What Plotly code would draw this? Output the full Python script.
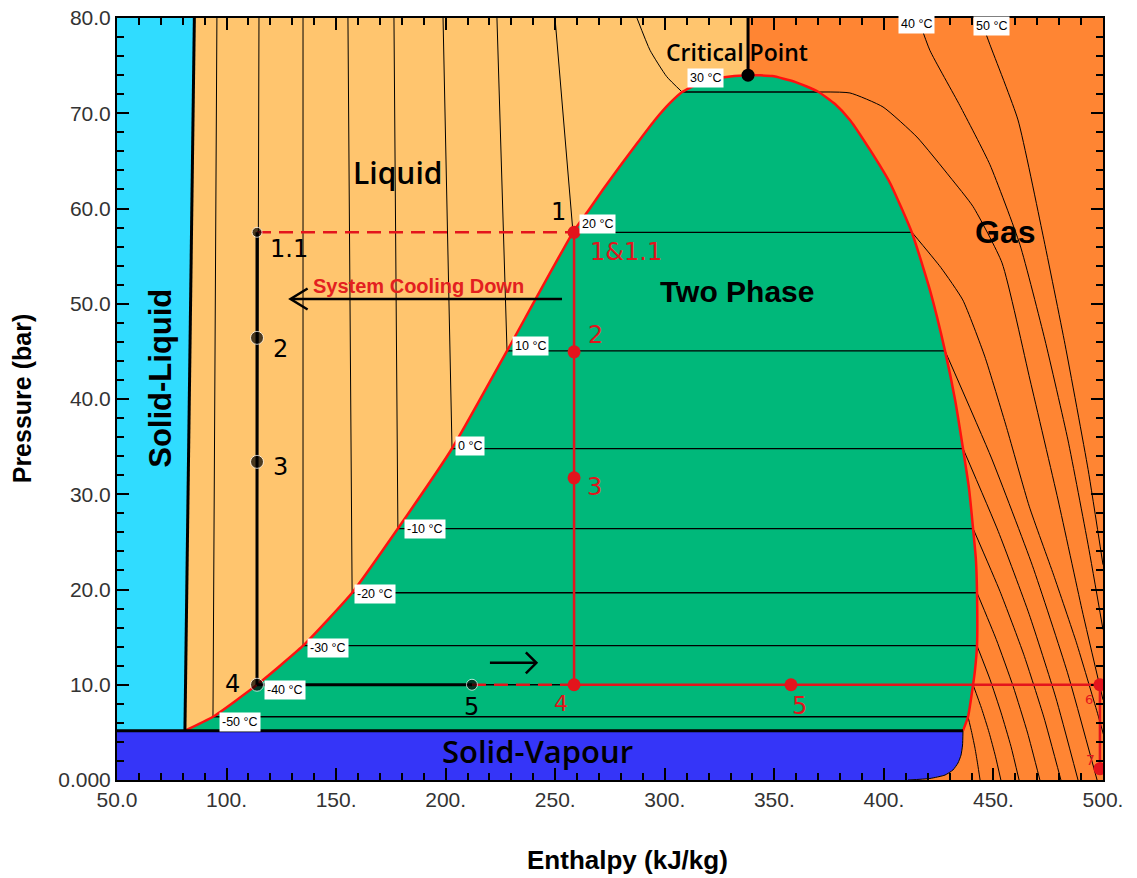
import plotly.graph_objects as go

# ---------------- axis ticks ----------------
x_tickvals = [50, 100, 150, 200, 250, 300, 350, 400, 450, 500]
x_ticktext = ["50.0", "100.", "150.", "200.", "250.", "300.", "350.", "400.", "450.", "500."]
y_tickvals = [0, 10, 20, 30, 40, 50, 60, 70, 80]
y_ticktext = ["0.000", "10.0", "20.0", "30.0", "40.0", "50.0", "60.0", "70.0", "80.0"]

# ---------------- phase boundaries (h kJ/kg, P bar) ----------------
P_triple = 5.18
crit_h = 338.0
crit_P = 74.0
liq_h = [81.0, 93.8, 113.9, 134.9, 157.3, 178.2, 202.9, 228.0, 258.1, 265.0, 271.8, 279.6, 287.8, 295.5, 302.4, 307.9, 316.1, 326.1, 338.0]
liq_P = [5.18, 6.64, 10.0, 14.1, 19.66, 26.4, 34.8, 45.05, 57.5, 59.74, 62.0, 64.46, 66.98, 69.29, 71.08, 72.23, 73.18, 73.75, 74.0]
vap_h = [338.0, 349.0, 359.4, 370.0, 377.7, 384.5, 393.7, 402.8, 412.8, 421.0, 427.9, 432.5, 436.1, 438.9, 440.7, 442.0, 442.5, 442.5, 441.6, 440.7, 438.4, 436.1]
vap_P = [74.0, 73.9, 73.3, 72.26, 70.97, 69.3, 66.15, 62.68, 57.46, 51.45, 45.05, 39.9, 34.8, 30.5, 26.4, 23.1, 19.66, 14.1, 11.6, 10.0, 6.64, 5.18]
sub_h = [436.1, 435.9, 435.2, 433.8, 431.5, 427.9, 421.0, 411.0]
sub_P = [5.18, 3.67, 2.62, 1.78, 1.05, 0.52, 0.16, 0.0]
melt_h = [81.0, 85.3]
melt_P = [5.18, 80.0]

# ---------------- isotherms ----------------
iso_T = [-50, -40, -30, -20, -10, 0, 10, 20]
iso_Psat = [6.64, 10.0, 14.1, 19.66, 26.4, 34.8, 45.05, 57.5]
iso_hf = [93.8, 113.9, 134.9, 157.3, 178.2, 202.9, 228.0, 258.1]
iso_hg = [438.4, 440.7, 442.5, 442.5, 440.7, 436.1, 427.9, 412.8]
iso_htop = [95.6, 114.8, 134.9, 155.4, 176.4, 198.8, 223.4, 249.9]
iso_gas_h = [
    [440.1, 441.6, 442.8, 443.9],
    [444.6, 448.0, 450.9, 453.4],
    [448.4, 453.5, 458.0, 461.7],
    [451.3, 459.0, 465.6, 471.2],
    [453.0, 463.8, 473.0, 480.8],
    [452.2, 466.3, 478.4, 488.6],
    [449.1, 467.8, 483.8, 497.3],
    [426.0, 436.0, 446.0, 456.0, 466.3, 477.5, 487.9, 497.5, 506.0],
]
iso_gas_P = [
    [4.98, 3.32, 1.66, 0.0],
    [7.5, 5.0, 2.5, 0.0],
    [10.58, 7.05, 3.53, 0.0],
    [14.75, 9.83, 4.92, 0.0],
    [19.8, 13.2, 6.6, 0.0],
    [26.1, 17.4, 8.7, 0.0],
    [33.8, 22.5, 11.26, 0.0],
    [53.8, 50.4, 44.5, 37.0, 28.75, 21.5, 14.4, 7.0, 0.0],
]
t30_h = [287.3, 293.3, 300.9, 307.9, 370.0, 384.5, 399.6, 415.1, 430.2, 440.7, 453.9, 466.7, 479.5, 490.4, 500.0]
t30_P = [80.0, 76.6, 73.84, 72.23, 72.23, 72.13, 70.66, 67.5, 63.3, 60.2, 54.3, 42.0, 29.4, 17.9, 8.42]
t40_h = [415.6, 421.0, 434.7, 448.4, 462.1, 473.5, 484.0, 493.2, 500.0]
t40_P = [80.0, 76.6, 70.8, 64.6, 56.2, 46.2, 35.7, 24.7, 15.8]
t50_h = [443.9, 448.4, 461.2, 472.6, 482.7, 493.2, 500.0]
t50_P = [80.0, 77.2, 69.3, 57.2, 45.7, 32.6, 22.6]

# ---------------- cycle points ----------------
black_h = 113.9
black_P = [57.5, 46.42, 33.4, 10.0]
black5_h = 212.0
red_h = 258.6
red_P = [57.5, 44.95, 31.72, 10.0]
red5_h = 357.6
red6_h = 498.6
red7_P = 1.19
P_low = 10.0

# ---------------- colors ----------------
C_CYAN = "#30DCFF"
C_LIQ = "#FFC56E"
C_GAS = "#FF8533"
C_TWO = "#00B87A"
C_BLUE = "#3535F8"
C_RED = "#FF1010"
C_CYC = "#E3141C"

fig = go.Figure()

def poly(h, P, color, shape="linear"):
    fig.add_trace(go.Scatter(x=h, y=P, fill="toself", fillcolor=color, mode="lines",
                             line=dict(width=0, color=color, shape=shape, smoothing=0.5),
                             hoverinfo="skip"))

def line(h, P, color="black", width=1, dash=None, shape="linear"):
    fig.add_trace(go.Scatter(x=h, y=P, mode="lines", hoverinfo="skip",
                             line=dict(color=color, width=width, dash=dash, shape=shape, smoothing=0.5)))

# regions
poly([50, melt_h[0], melt_h[1], 50], [P_triple, P_triple, 80, 80], C_CYAN)
poly(melt_h + [crit_h, crit_h] + liq_h[::-1], melt_P + [80, crit_P] + liq_P[::-1], C_LIQ)
poly(liq_h + vap_h[1:], liq_P + vap_P[1:], C_TWO, shape="spline")
poly([50] + sub_h + [50], [P_triple] + sub_P + [0], C_BLUE)

# isotherms
for i in range(len(iso_T)):
    line([iso_htop[i], iso_hf[i]], [80, iso_Psat[i]], width=1)
    line([iso_hf[i], iso_hg[i]], [iso_Psat[i], iso_Psat[i]], width=1.3)
    line([iso_hg[i]] + iso_gas_h[i], [iso_Psat[i]] + iso_gas_P[i], width=1, shape="spline")
line(t30_h[:4], t30_P[:4], width=1, shape="spline")
line(t30_h[3:5], t30_P[3:5], width=1.3)
line(t30_h[4:], t30_P[4:], width=1, shape="spline")
line(t40_h, t40_P, width=1, shape="spline")
line(t50_h, t50_P, width=1, shape="spline")

# boundaries
line(liq_h + vap_h[1:], liq_P + vap_P[1:], color=C_RED, width=2.5, shape="spline")
line(sub_h, sub_P, color="black", width=1, shape="spline")
line(melt_h, melt_P, color="black", width=3)
line([50, sub_h[0]], [P_triple, P_triple], color="black", width=3)
line([crit_h, crit_h], [crit_P, 80], color="black", width=3)
fig.add_trace(go.Scatter(x=[crit_h], y=[crit_P], mode="markers", hoverinfo="skip",
                         marker=dict(color="black", size=13)))

# cycle: red
line([black_h, red_h], [black_P[0], red_P[0]], color=C_CYC, width=2.5, dash="14px,8px")
line([black5_h, red_h], [P_low, P_low], color=C_CYC, width=2.5, dash="14px,8px")
line([red_h, red_h], [red_P[0], red_P[-1]], color=C_CYC, width=2.5)
line([red_h, red6_h, red6_h], [P_low, P_low, red7_P], color=C_CYC, width=2.5)
fig.add_trace(go.Scatter(x=[red_h] * 4 + [red5_h], y=red_P + [P_low],
                         mode="markers", hoverinfo="skip",
                         marker=dict(color=C_CYC, size=13)))
for py in (P_low, red7_P):
    fig.add_shape(type="circle", xref="x", yref="y", xsizemode="pixel", ysizemode="pixel",
                  xanchor=red6_h, yanchor=py, x0=-6.5, x1=6.5, y0=-6.5, y1=6.5,
                  fillcolor=C_CYC, line=dict(width=0), layer="above")
# cycle: black
line([black_h, black_h], [black_P[0], black_P[-1]], color="black", width=3)
line([black_h, black5_h], [P_low, P_low], color="black", width=3)
fig.add_trace(go.Scatter(x=[black_h] * 4 + [black5_h], y=black_P + [P_low],
                         mode="markers", hoverinfo="skip",
                         marker=dict(color="black", size=[10, 13, 13, 13, 11])))

# arrows (shaft + open head)
fig.add_shape(type="line", x0=253.1, y0=50.5, x1=129.5, y1=50.5, line=dict(color="black", width=2.5))
fig.add_shape(type="path", path="M 137.0,51.6 L 129.2,50.5 L 137.0,49.4", line=dict(color="black", width=2.5))
fig.add_shape(type="line", x0=220.2, y0=12.3, x1=241.2, y1=12.3, line=dict(color="black", width=2.5))
fig.add_shape(type="path", path="M 236.6,13.4 L 241.4,12.3 L 236.6,11.2", line=dict(color="black", width=2.5))

anns = []
def txt(x, y, s, size, color="black", family="Liberation Sans", weight="bold", angle=0, bg=None, pad=1):
    a = dict(x=x, y=y, xref="x", yref="y", text=s, showarrow=False, textangle=angle,
             xanchor="center", yanchor="middle",
             font=dict(size=size, color=color, family=family, weight=weight))
    if bg:
        a.update(bgcolor=bg, borderpad=pad)
    anns.append(a)

# region labels
txt(177.8, 63.8, "Liquid", 30, family="Open Sans", weight=600)
txt(333.0, 51.3, "Two Phase", 30)
txt(455.3, 57.5, "Gas", 32)
txt(69.5, 42.2, "Solid-Liquid", 31, angle=-90)
txt(242.0, 3.0, "Solid-Vapour", 31, family="Open Sans", weight=600)
txt(333.0, 76.4, "Critical Point", 23, family="Open Sans", weight=600)
txt(187.4, 51.9, "System Cooling Down", 20, color="#E32020")

# isotherm labels
iso_lab = [("-50 °C", 106.1, 6.13), ("-40 °C", 126.7, 9.48), ("-30 °C", 146.3, 13.9),
           ("-20 °C", 167.7, 19.55), ("-10 °C", 190.6, 26.3), ("0 °C", 211.1, 35.1),
           ("10 °C", 238.5, 45.6), ("20 °C", 269.5, 58.4), ("30 °C", 318.8, 73.75),
           ("40 °C", 415.1, 79.4), ("50 °C", 449.3, 79.2)]
for s, hx, py in iso_lab:
    txt(hx, py, s, 12.5, weight="normal", bg="white", pad=2)

# cycle point labels (hand-written style)
hand = "DejaVu Sans"
for s, hx, py in [("1.1", 128.5, 55.7), ("2", 124.4, 45.3), ("3", 124.8, 32.9), ("4", 102.9, 10.1),
                  ("5", 212.0, 7.7), ("1", 251.7, 59.6)]:
    txt(hx, py, s, 24, family=hand, weight="normal")
for s, hx, py, sz in [("1&1.1", 282.3, 55.4, 24), ("2", 268.2, 46.7, 24), ("3", 267.7, 30.8, 24),
                      ("4", 252.6, 8.0, 22), ("5", 361.3, 7.8, 24), ("6", 493.6, 8.5, 13), ("7", 494.1, 2.1, 14)]:
    txt(hx, py, s, sz, color=C_CYC, family=hand, weight="normal")

# axis titles
anns.append(dict(x=0.518, y=-0.105, xref="paper", yref="paper", text="Enthalpy (kJ/kg)", showarrow=False,
                 xanchor="center", yanchor="middle",
                 font=dict(size=26, family="Liberation Sans", weight="bold", color="black")))
anns.append(dict(x=-0.0963, y=0.501, xref="paper", yref="paper", text="Pressure (bar)", showarrow=False,
                 xanchor="center", yanchor="middle", textangle=-90,
                 font=dict(size=25, family="Liberation Sans", weight="bold", color="black")))

axis_common = dict(showline=True, linecolor="black", linewidth=2, mirror="ticks", ticks="inside",
                   ticklen=12, tickwidth=2, tickcolor="black", showgrid=False, zeroline=False,
                   automargin=False,
                   tickfont=dict(size=21, family="Liberation Sans", color="#333333"))
fig.update_xaxes(range=[50, 500], tickvals=x_tickvals, ticktext=x_ticktext,
                 minor=dict(dtick=10, ticks="inside", ticklen=7, tickwidth=1.5, tickcolor="black"),
                 **axis_common)
fig.update_yaxes(range=[0, 80], tickvals=y_tickvals, ticktext=y_ticktext,
                 minor=dict(dtick=2, ticks="inside", ticklen=7, tickwidth=1.5, tickcolor="black"),
                 **axis_common)
fig.update_layout(width=1137, height=878, margin=dict(l=117, r=34, t=18, b=98, autoexpand=False),
                  plot_bgcolor=C_GAS, paper_bgcolor="white", showlegend=False,
                  annotations=anns)
fig.write_html("out.html")
